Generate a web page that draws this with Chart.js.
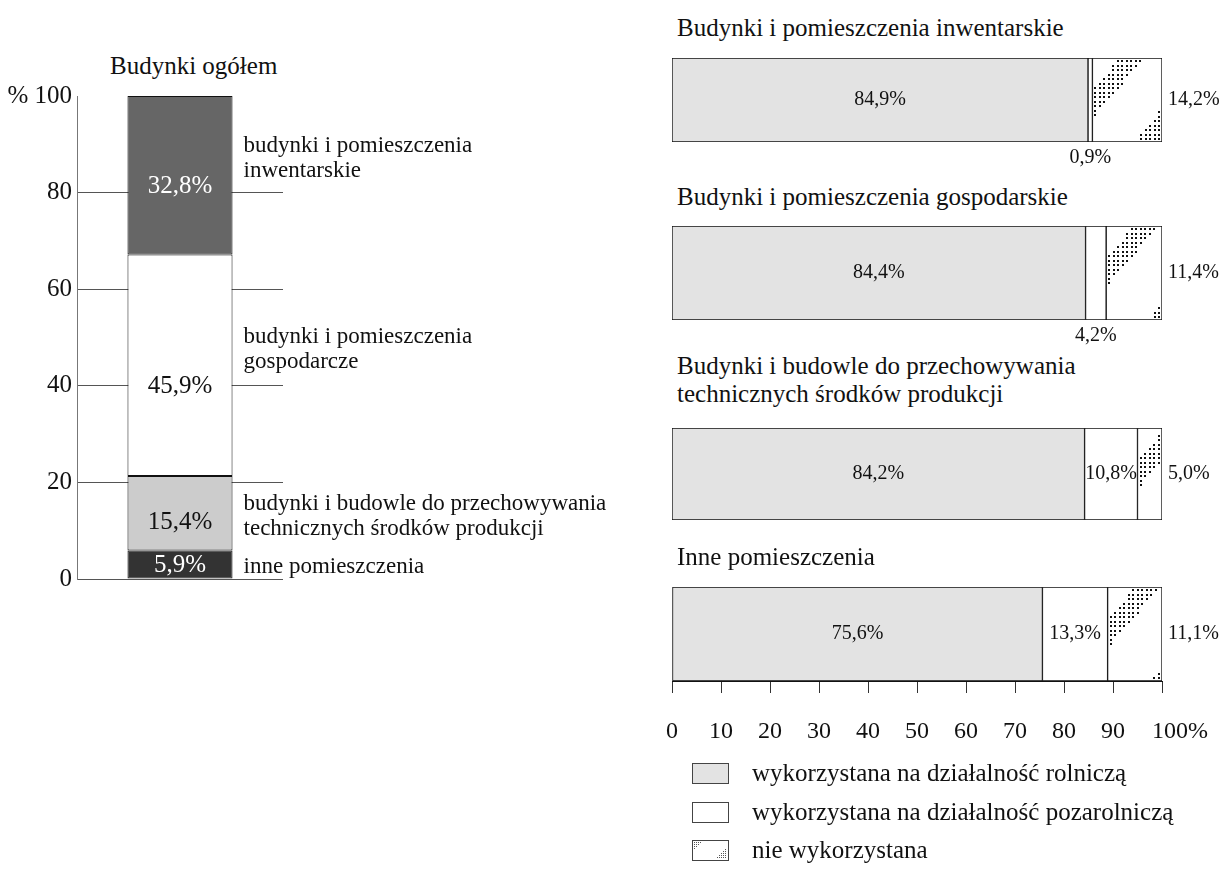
<!DOCTYPE html>
<html>
<head>
<meta charset="utf-8">
<script src="https://cdn.jsdelivr.net/npm/chart.js@4.4.1/dist/chart.umd.min.js"></script>
<style>
  body{margin:0;background:#fff;width:1224px;height:869px;position:relative;overflow:hidden;
       font-family:"Liberation Serif","Times New Roman",serif;color:#111}
  .title{position:absolute;white-space:pre;font-size:25px;line-height:28px}
  canvas{position:absolute}
</style>
</head>
<body>
<div class="title" style="left:110px;top:52px">Budynki ogółem</div>
<canvas id="left" width="640" height="600" style="left:0;top:0"></canvas>
<div id="right"></div>

<script>
/* ---------- data ---------- */
// left: "Budynki ogółem", stacked bottom -> top
const leftCategories = [
  ["inne pomieszczenia"],
  ["budynki i budowle do przechowywania", "technicznych środków produkcji"],
  ["budynki i pomieszczenia", "gospodarcze"],
  ["budynki i pomieszczenia", "inwentarskie"]
];
const leftValues = [5.9, 15.4, 45.9, 32.8];
const leftTicks = [0, 20, 40, 60, 80, 100];

// right: usage of each building type
const rightCategories = [
  "Budynki i pomieszczenia inwentarskie",
  "Budynki i pomieszczenia gospodarskie",
  "Budynki i budowle do przechowywania\ntechnicznych środków produkcji",
  "Inne pomieszczenia"
];
const seriesNames = [
  "wykorzystana na działalność rolniczą",
  "wykorzystana na działalność pozarolniczą",
  "nie wykorzystana"
];
const agri    = [84.9, 84.4, 84.2, 75.6];
const nonAgri = [0.9, 4.2, 10.8, 13.3];
const unused  = [14.2, 11.4, 5.0, 11.1];
const xTicks  = [0, 10, 20, 30, 40, 50, 60, 70, 80, 90, 100];

/* ---------- styles ---------- */
const FONT = '"Liberation Serif", "Times New Roman", serif';
const INK = "#111";
const leftColors = ["#333333", "#cccccc", "#ffffff", "#666666"];
const leftText   = ["#fff", INK, INK, "#fff"];
const leftInnerShift = [1, 9, 21, 11];
const leftSideShift  = [2, 3, -16, -17];
const rightColors = ["#e3e3e3", "#ffffff", "#ffffff"];
const barTops    = [58, 226, 428, 587];
const barHeights = [84, 94, 92, 94];
const titleTops  = [14, 183, 352, 543];

const fmt = v => v.toFixed(1).replace(".", ",") + "%";

/* ---------- left chart ---------- */
const leftLabels = {
  id: "leftLabels",
  afterDatasetsDraw(chart){
    const ctx = chart.ctx;
    ctx.save();
    ctx.textBaseline = "middle";
    chart.data.datasets.forEach((ds, i) => {
      const el = chart.getDatasetMeta(i).data[0];
      const p = el.getProps(["x", "y", "base", "width"], true);
      const cy = (p.y + p.base) / 2;
      ctx.font = "25px " + FONT;
      ctx.fillStyle = leftText[i];
      ctx.textAlign = "center";
      ctx.fillText(fmt(ds.data[0]), p.x, cy + leftInnerShift[i]);

      ctx.font = "23px " + FONT;
      ctx.fillStyle = INK;
      ctx.textAlign = "left";
      const lines = leftCategories[i];
      lines.forEach((ln, k) => {
        ctx.fillText(ln, p.x + p.width / 2 + 11, cy + leftSideShift[i] + (k - (lines.length - 1) / 2) * 25);
      });
    });
    ctx.restore();
  }
};

new Chart(document.getElementById("left"), {
  type: "bar",
  data: {
    labels: [""],
    datasets: leftValues.map((v, i) => ({
      label: leftCategories[i].join(" "),
      data: [v],
      backgroundColor: leftColors[i],
      borderColor: INK,
      borderWidth: 1,
      borderSkipped: false,
      barPercentage: 0.51,
      categoryPercentage: 1
    }))
  },
  options: {
    responsive: false,
    animation: false,
    devicePixelRatio: 1,
    layout: { padding: { left: 0, right: 357, top: 96, bottom: 21 } },
    plugins: { legend: { display: false }, tooltip: { enabled: false } },
    scales: {
      x: { stacked: true, display: false },
      y: {
        stacked: true, min: 0, max: 100,
        afterBuildTicks: s => { s.ticks = leftTicks.map(v => ({ value: v })); },
        afterFit: s => { s.width = 77; },
        ticks: {
          font: { family: FONT, size: 25 }, color: INK, padding: 5,
          callback: v => v === 100 ? "% 100" : v
        },
        grid: {
          drawTicks: false,
          color: c => c.tick && c.tick.value === 100 ? "rgba(0,0,0,0)" : "#555",
          lineWidth: 1
        },
        border: { color: "#777" }
      }
    }
  },
  plugins: [leftLabels]
});

/* ---------- right charts ---------- */
// dotted shading of the "nie wykorzystana" segment: a diagonal band
// in the upper-left and a small triangle in the lower-right corner
function drawDots(ctx, left, top, w, h){
  ctx.save();
  ctx.beginPath();
  ctx.rect(left + 1.5, top + 1.5, w - 3, h - 3);
  ctx.clip();
  ctx.fillStyle = INK;
  for (let yy = 2; yy < h - 1; yy += 4.5){
    for (let xx = 2; xx < w - 1; xx += 4.5){
      const hi = 50 - 0.85 * yy;
      const lo = Math.max(1, 26 - 0.95 * yy);
      if (xx >= lo && xx <= hi) ctx.fillRect(Math.round(left + xx), Math.round(top + yy), 2, 2);
    }
  }
  const corner = w < 30 ? 0 : 14 + (w - 56);
  for (let dy = 3; dy < corner * 1.25; dy += 4.5){
    for (let dx = 3; dx < corner; dx += 4.5){
      if (dx + 0.8 * dy < corner) ctx.fillRect(Math.round(left + w - dx - 1), Math.round(top + h - dy - 1), 2, 2);
    }
  }
  ctx.restore();
}

const rightLabels = {
  id: "rightLabels",
  afterDatasetsDraw(chart){
    const ctx = chart.ctx;
    const u = chart.getDatasetMeta(2).data[0].getProps(["x", "y", "base", "height"], true);
    drawDots(ctx, u.base, u.y - u.height / 2, u.x - u.base, u.height);

    ctx.save();
    ctx.font = "20px " + FONT;
    ctx.fillStyle = INK;
    ctx.textBaseline = "middle";
    chart.data.datasets.forEach((ds, d) => {
      const p = chart.getDatasetMeta(d).data[0].getProps(["x", "y", "base", "height"], true);
      const txt = fmt(ds.data[0]);
      const w = ctx.measureText(txt).width;
      if (d === 2){
        ctx.textAlign = "left";
        ctx.fillText(txt, p.x + 6, p.y);
      } else if (p.x - p.base > w){
        ctx.textAlign = "center";
        ctx.fillText(txt, (p.x + p.base) / 2, p.y);
      } else {
        ctx.textAlign = "center";
        ctx.fillText(txt, (p.x + p.base) / 2, p.y + p.height / 2 + 16);
      }
    });
    ctx.restore();
  }
};

const legendPlugin = {
  id: "boxLegend",
  afterDraw(chart){
    const ctx = chart.ctx;
    const a = chart.chartArea;
    const rows = [92, 131, 169];
    ctx.save();
    ctx.font = "25px " + FONT;
    ctx.textBaseline = "middle";
    ctx.textAlign = "left";
    chart.data.datasets.forEach((ds, i) => {
      const bx = a.left + 20, bw = 36, bh = 20, by = a.bottom + rows[i] - bh / 2;
      ctx.fillStyle = ds.backgroundColor;
      ctx.fillRect(bx, by, bw, bh);
      if (i === 2){
        ctx.fillStyle = "#555";
        for (let r = 0; r < 4; r++) for (let c = 0; c < 4 - r; c++)
          ctx.fillRect(bx + 2 + c * 2, by + 2 + r * 2, 1, 1);
        for (let r = 0; r < 5; r++) for (let c = 0; c <= r; c++)
          ctx.fillRect(bx + bw - 3 - c * 2, by + 9 + r * 2, 1, 1);
      }
      ctx.strokeStyle = "#444";
      ctx.lineWidth = 1;
      ctx.strokeRect(bx + 0.5, by + 0.5, bw, bh);
      ctx.fillStyle = INK;
      ctx.fillText(ds.label, bx + 60, by + bh / 2 + 1);
    });
    ctx.restore();
  }
};

const host = document.getElementById("right");
rightCategories.forEach((cat, i) => {
  const last = i === rightCategories.length - 1;
  const t = document.createElement("div");
  t.className = "title";
  t.style.left = "677px";
  t.style.top = titleTops[i] + "px";
  t.textContent = cat;
  host.appendChild(t);

  const cv = document.createElement("canvas");
  const padTop = 20, padBottom = last ? 98 : 30, axisH = last ? 92 : 0;
  cv.width = 564;
  cv.height = padTop + barHeights[i] + axisH + padBottom;
  cv.style.left = "660px";
  cv.style.top = (barTops[i] - padTop) + "px";
  host.appendChild(cv);

  new Chart(cv, {
    type: "bar",
    data: {
      labels: [cat],
      datasets: [agri, nonAgri, unused].map((arr, d) => ({
        label: seriesNames[d],
        data: [arr[i]],
        backgroundColor: rightColors[d],
        borderColor: INK,
        borderWidth: 1,
        borderSkipped: false,
        barPercentage: 1,
        categoryPercentage: 1
      }))
    },
    options: {
      indexAxis: "y",
      responsive: false,
      animation: false,
      devicePixelRatio: 1,
      layout: { padding: { left: 12, right: 62, top: padTop, bottom: padBottom } },
      plugins: { legend: { display: false }, tooltip: { enabled: false } },
      scales: {
        y: { stacked: true, display: false },
        x: {
          stacked: true, min: 0, max: 100,
          display: last,
          afterBuildTicks: s => { s.ticks = xTicks.map(v => ({ value: v })); },
          afterFit: s => { if (last) s.height = axisH; },
          ticks: {
            font: { family: FONT, size: 24, lineHeight: 3 }, color: INK, padding: 3,
            maxRotation: 0, autoSkip: false,
            // "100%": keep the number near its tick, the percent sign trails it
            callback: v => v === 100 ? "\u2003\u2002100%" : v
          },
          grid: { display: true, drawOnChartArea: false, drawTicks: true, tickLength: 12, color: "#333" },
          border: { display: true, color: INK }
        }
      }
    },
    plugins: last ? [rightLabels, legendPlugin] : [rightLabels]
  });
});
</script>
</body>
</html>
